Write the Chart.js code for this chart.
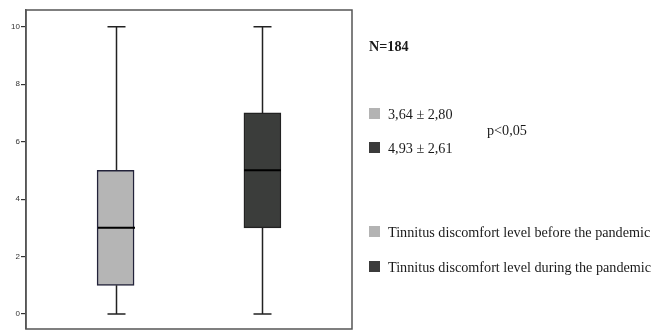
<!DOCTYPE html>
<html>
<head>
<meta charset="utf-8">
<script src="https://cdn.jsdelivr.net/npm/chart.js@4.4.0/dist/chart.umd.min.js"></script>
<style>
  body { margin: 0; background: #fff; }
  #wrap { position: relative; width: 654px; height: 331px; }
  #boxChart { position: absolute; left: 0; top: 0; }
  .note { position: absolute; font-family: "Liberation Serif", "Times New Roman", serif; font-size: 14.2px; color: #1a1a1a; white-space: nowrap; line-height: 14px; }
  .sq { position: absolute; width: 11px; height: 11px; }
</style>
</head>
<body>
<div id="wrap">
  <canvas id="boxChart" width="654" height="331"></canvas>
  <div class="note" style="left:369px; top:39px; font-weight:bold;">N=184</div>
  <div class="sq" style="left:369px; top:108px; background:#b3b3b3;"></div>
  <div class="note" style="left:388px; top:107px;">3,64 ± 2,80</div>
  <div class="note" style="left:487px; top:123px;">p&lt;0,05</div>
  <div class="sq" style="left:369px; top:142px; background:#3b3b3b;"></div>
  <div class="note" style="left:388px; top:141px;">4,93 ± 2,61</div>
  <div class="sq" style="left:369px; top:226px; background:#b3b3b3;"></div>
  <div class="note" style="left:388px; top:225px;">Tinnitus discomfort level before the pandemic</div>
  <div class="sq" style="left:369px; top:261px; background:#3b3b3b;"></div>
  <div class="note" style="left:388px; top:260px;">Tinnitus discomfort level during the pandemic</div>
</div>
<script>
// box plot values (tinnitus discomfort score)
const groups = ['Before the pandemic', 'During the pandemic'];
const xPos = [1, 2];
const minVals = [0, 0];
const q1Vals = [1, 3];
const medianVals = [3, 5];
const q3Vals = [5, 7];
const maxVals = [10, 10];
const yTicks = [0, 2, 4, 6, 8, 10];
const boxColors = ['#b5b5b5', '#3b3d3b'];

var boxData = [];
for (var i = 0; i < groups.length; i++) {
    boxData.push({x: xPos[i], y: [q1Vals[i], q3Vals[i]]});
}

// whiskers, caps and median lines, drawn from the scales
const whiskers = {
    id: 'whiskers',
    afterDatasetsDraw(chart) {
        const c = chart.ctx;
        const xs = chart.scales.x;
        const ys = chart.scales.y;
        c.save();
        c.strokeStyle = '#222';
        for (var i = 0; i < groups.length; i++) {
            let px = Math.round(xs.getPixelForValue(xPos[i])) + 0.5;
            c.lineWidth = 1.5;
            c.beginPath();
            c.moveTo(px, ys.getPixelForValue(maxVals[i]));
            c.lineTo(px, ys.getPixelForValue(q3Vals[i]));
            c.moveTo(px, ys.getPixelForValue(q1Vals[i]));
            c.lineTo(px, ys.getPixelForValue(minVals[i]));
            c.moveTo(px - 9, ys.getPixelForValue(maxVals[i]));
            c.lineTo(px + 9, ys.getPixelForValue(maxVals[i]));
            c.moveTo(px - 9, ys.getPixelForValue(minVals[i]));
            c.lineTo(px + 9, ys.getPixelForValue(minVals[i]));
            c.stroke();
            c.lineWidth = 2;
            c.strokeStyle = '#000';
            c.beginPath();
            c.moveTo(px - 18.5, ys.getPixelForValue(medianVals[i]));
            c.lineTo(px + 18.5, ys.getPixelForValue(medianVals[i]));
            c.stroke();
            c.strokeStyle = '#222';
        }
        // frame round the plot
        const a = chart.chartArea;
        c.lineWidth = 1.5;
        c.strokeStyle = '#555';
        c.strokeRect(a.left, a.top, a.right - a.left, a.bottom - a.top);
        c.restore();
    }
};

const ctx = document.getElementById('boxChart');
new Chart(ctx, {
    type: 'bar',
    data: {
        datasets: [{
            label: 'Tinnitus discomfort level',
            data: boxData,
            backgroundColor: boxColors,
            borderColor: ['#22223a', '#222'],
            borderWidth: 1.5,
            borderSkipped: false,
            barThickness: 37,
            grouped: false
        }]
    },
    options: {
        responsive: false,
        animation: false,
        layout: { padding: { top: 10, bottom: 2, right: 302, left: 0 } },
        plugins: { legend: { display: false }, tooltip: { enabled: false } },
        scales: {
            x: { type: 'linear', min: 0.39, max: 2.61, offset: false, display: false },
            y: {
                min: -0.52,
                max: 10.58,
                afterBuildTicks: function(s) { s.ticks = yTicks.map(v => ({value: v})); },
                afterFit: function(s) { s.width = 26; s.paddingTop = 0; s.paddingBottom = 0; },
                grid: { drawOnChartArea: false, drawTicks: true, tickLength: 5, color: '#333', lineWidth: 1.2 },
                border: { display: true, color: '#555', width: 1.5 },
                ticks: { padding: 1, color: '#333', font: { size: 8, family: 'Arial' } }
            }
        }
    },
    plugins: [whiskers]
});
</script>
</body>
</html>
